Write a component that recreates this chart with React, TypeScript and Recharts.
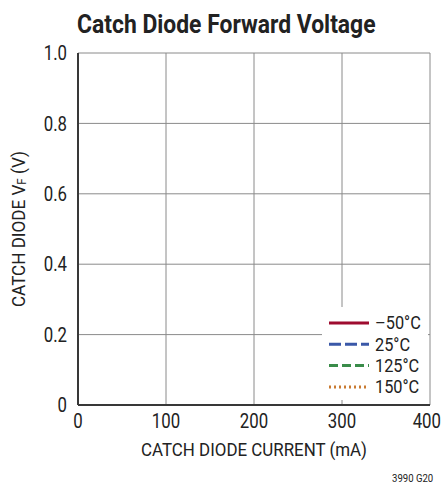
import React from "react";
import { LineChart, Line, XAxis, YAxis, CartesianGrid, Label } from "recharts";

const xTicks = [0, 100, 200, 300, 400];
const yTicks = [0, 0.2, 0.4, 0.6, 0.8, 1.0];
// The reference shows no plotted curves, only the legend entries.
const seriesNames = ["–50°C", "25°C", "125°C", "150°C"];
const seriesKeys = ["m50", "t25", "t125", "t150"];
const seriesColors = ["#9e0b2f", "#3a58a8", "#3a8c4a", "#c97a30"];
const seriesDashes = ["0", "12 4", "9 4", "2 3"];
// current axis positions only; no series values are shown in the reference
const axisFrame = xTicks.map((x) => ({ x }));

const FONT = "Roboto, 'Liberation Sans', sans-serif";
const TXT = "#222";
const SQ = 0.8; // horizontal squeeze to mimic the condensed face
const X_MAX = xTicks[xTicks.length - 1];

const XTick = (p: any) => {
  const last = p.payload.value === X_MAX;
  return (
    <g transform={`translate(${last ? p.x + 11 : p.x},${p.y + 16})`}>
      <text
        transform={`scale(${SQ},1)`}
        textAnchor={last ? "end" : "middle"}
        dominantBaseline="central"
        fontFamily={FONT}
        fontSize={21}
        fill={TXT}
      >
        {p.payload.value}
      </text>
    </g>
  );
};

const YTick = (p: any) => (
  <g transform={`translate(${p.x - 11},${p.y})`}>
    <text
      transform={`scale(${SQ},1)`}
      textAnchor="end"
      dominantBaseline="central"
      fontFamily={FONT}
      fontSize={21}
      fill={TXT}
    >
      {p.payload.value === 0 ? "0" : Number(p.payload.value).toFixed(1)}
    </text>
  </g>
);

const LegendBox = () => (
  <div style={{ position: "absolute", left: 322, top: 307, width: 106, height: 93, background: "#fff" }}>
    <svg width={106} height={93} style={{ position: "absolute", left: 0, top: 0 }}>
      {seriesNames.map((n, i) => (
        <g key={n}>
          <line
            x1={7}
            x2={47}
            y1={16 + i * 21.3}
            y2={16 + i * 21.3}
            stroke={seriesColors[i]}
            strokeWidth={3}
            strokeDasharray={seriesDashes[i]}
          />
          <g transform={`translate(53,${16 + i * 21.3})`}>
            <text
              transform="scale(0.86,1)"
              dominantBaseline="central"
              fontFamily={FONT}
              fontSize={19}
              fill={TXT}
            >
              {n}
            </text>
          </g>
        </g>
      ))}
    </svg>
  </div>
);

const YLabel = (props: any) => {
  const vb = props.viewBox || {};
  const cx = 18;
  const cy = vb.y + vb.height / 2;
  return (
    <g transform={`translate(${cx},${cy}) rotate(-90)`}>
      <text
        transform="scale(0.9,1)"
        textAnchor="middle"
        dominantBaseline="central"
        fontFamily={FONT}
        fontSize={19}
        fill={TXT}
      >
        CATCH DIODE V<tspan fontSize={13} dy={4}>F</tspan>
        <tspan dy={-4}> (V)</tspan>
      </text>
    </g>
  );
};

const XLabel = (props: any) => {
  const vb = props.viewBox || {};
  const cx = vb.x + vb.width / 2;
  return (
    <g transform={`translate(${cx},450)`}>
      <text
        transform="scale(0.94,1)"
        textAnchor="middle"
        dominantBaseline="central"
        fontFamily={FONT}
        fontSize={18}
        fill={TXT}
      >
        CATCH DIODE CURRENT (mA)
      </text>
    </g>
  );
};

export default function App() {
  return (
    <div style={{ position: "relative", width: 442, height: 487 }}>
      <style>{"body{margin:0}"}</style>
      <div
        style={{
          position: "absolute",
          left: 77,
          top: 9,
          fontFamily: FONT,
          fontWeight: "bold",
          fontSize: 26,
          color: TXT,
          whiteSpace: "nowrap",
          transform: "scaleX(0.88)",
          transformOrigin: "0 0",
        }}
      >
        Catch Diode Forward Voltage
      </div>
      <LineChart
        width={442}
        height={487}
        data={axisFrame}
        margin={{ top: 53, right: 12, bottom: 52, left: 0 }}
        style={{ position: "absolute", left: 0, top: 0 }}
      >
        <CartesianGrid stroke="#8a8a8a" strokeWidth={1} xAxisId="b" yAxisId="l" />
        <XAxis
          xAxisId="b"
          dataKey="x"
          type="number"
          domain={[0, 400]}
          allowDataOverflow
          ticks={xTicks}
          height={30}
          tickLine={false}
          tickSize={0}
          tickMargin={0}
          axisLine={{ stroke: "#383838", strokeWidth: 2 }}
          tick={<XTick />}
          interval={0}
        >
          <Label content={<XLabel />} />
        </XAxis>
        <XAxis
          xAxisId="t"
          dataKey="x"
          orientation="top"
          type="number"
          domain={[0, 400]}
          allowDataOverflow
          ticks={xTicks}
          height={0}
          tick={false}
          tickLine={false}
          axisLine={{ stroke: "#383838", strokeWidth: 2 }}
        />
        <YAxis
          yAxisId="l"
          type="number"
          domain={[0, 1]}
          allowDataOverflow
          ticks={yTicks}
          width={78}
          tickLine={false}
          tickSize={0}
          tickMargin={0}
          axisLine={{ stroke: "#383838", strokeWidth: 2 }}
          tick={<YTick />}
          interval={0}
        >
          <Label content={<YLabel />} />
        </YAxis>
        <YAxis
          yAxisId="r"
          orientation="right"
          type="number"
          domain={[0, 1]}
          allowDataOverflow
          ticks={yTicks}
          width={0}
          tick={false}
          tickLine={false}
          axisLine={{ stroke: "#383838", strokeWidth: 2 }}
        />
        {seriesNames.map((n, i) => (
          <Line
            key={n}
            name={n}
            dataKey={seriesKeys[i]}
            xAxisId="b"
            yAxisId="l"
            stroke={seriesColors[i]}
            strokeWidth={3}
            strokeDasharray={seriesDashes[i]}
            dot={false}
            isAnimationActive={false}
          />
        ))}
      </LineChart>
      <LegendBox />
      <div
        style={{
          position: "absolute",
          left: 392,
          top: 472,
          fontFamily: FONT,
          fontSize: 11,
          lineHeight: "13px",
          color: TXT,
          whiteSpace: "nowrap",
          transform: "scaleX(0.87)",
          transformOrigin: "0 0",
        }}
      >
        3990 G20
      </div>
    </div>
  );
}
